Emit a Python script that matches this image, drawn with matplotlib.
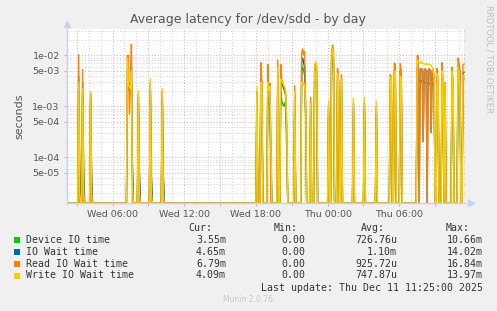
import numpy as np
import pandas as pd
import matplotlib
matplotlib.use("Agg")
from matplotlib import pyplot as plt
from matplotlib import dates as mdates
from matplotlib.ticker import LogLocator, FuncFormatter, NullFormatter
from matplotlib.patches import Rectangle

# ---- data (values in milliseconds, 5 minute samples) ----
n_samples = 400
end_time = "2025-12-11 11:25"

series_names = ["Device IO time", "IO Wait time", "Read IO Wait time", "Write IO Wait time"]
series_colors = ["#00CC00", "#0066B3", "#FF8000", "#FFCC00"]

sample_idx = [
    12, 13, 16, 17, 24, 25,
    61, 62, 63, 64, 65, 66, 72, 73, 84, 85, 96, 97,
    191, 195, 196, 202, 203, 204, 205, 212,
    215, 216, 217, 218, 219, 220, 221, 229,
    236, 237, 238, 239, 240, 245, 249, 250, 251,
    263, 266, 267, 268, 272, 273, 276,
    288, 299, 311, 325, 326, 329, 330, 335, 336,
    352, 353, 354, 355, 356, 357, 358, 359, 360, 361,
    362, 363, 364, 365, 366, 367, 368, 369,
    372, 373, 377, 378, 380, 387, 388, 393, 394, 395, 398, 399,
]
device_ms = [
    2.0, 0.05, 2.0, 0.04, 1.5, 0.03,
    3.0, 2.5, 2.0, 2.0, 3.0, 0.05, 1.2, 0.05, 2.0, 0.04, 1.5, 0.04,
    1.2, 2.0, 1.5, 1.5, 1.1, 1.1, 0.1, 2.5,
    2.0, 1.3, 1.1, 1.0, 1.2, 0.9, 0.12, 1.0,
    5.0, 6.0, 5.0, 4.0, 0.5, 0.8, 3.0, 3.0, 3.0,
    0.7, 5.0, 10.66, 6.0, 2.5, 2.0, 2.0,
    0.8, 0.8, 0.7, 2.0, 2.0, 2.5, 2.5, 2.5, 2.5,
    3.0, 3.0, 3.1, 3.3, 3.0, 3.2, 3.0, 3.0, 2.9, 2.9,
    2.8, 2.8, 2.8, 2.8, 2.9, 2.8, 2.8, 2.0,
    2.0, 1.5, 2.5, 1.5, 1.5, 2.5, 1.5, 3.0, 3.0, 2.0, 3.0, 3.55,
]
iowait_ms = [
    4.0, 0.08, 3.0, 0.06, 1.8, 0.05,
    5.0, 3.0, 2.5, 2.5, 6.0, 0.08, 1.8, 0.05, 3.0, 0.05, 2.0, 0.05,
    2.0, 4.0, 2.5, 4.0, 2.0, 2.0, 0.2, 5.0,
    4.0, 3.0, 2.5, 2.2, 2.0, 1.6, 0.3, 1.8,
    8.0, 9.0, 7.0, 6.0, 0.8, 1.2, 5.0, 6.0, 5.0,
    1.0, 8.0, 14.02, 8.0, 4.0, 3.0, 3.5,
    1.2, 1.2, 1.0, 3.5, 3.0, 5.0, 5.0, 5.0, 4.0,
    6.0, 6.0, 0.0, 5.5, 5.0, 5.5, 0.2, 5.0, 5.5, 5.0,
    0.0, 5.0, 5.5, 5.0, 0.3, 5.0, 5.0, 3.5,
    4.0, 2.0, 5.0, 2.5, 2.5, 4.5, 2.5, 6.0, 6.5, 4.0, 4.5, 4.65,
]
read_ms = [
    10.5, 0.0, 5.4, 0.0, 1.8, 0.0,
    10.0, 10.0, 0.7, 2.5, 16.84, 0.0, 1.5, 0.0, 2.0, 0.0, 1.5, 0.0,
    1.5, 7.3, 3.0, 6.7, 2.0, 2.9, 0.0, 8.3,
    6.7, 3.5, 2.8, 2.5, 2.2, 1.6, 0.3, 2.6,
    11.0, 13.7, 10.0, 12.0, 1.0, 1.55, 5.0, 7.5, 6.0,
    0.8, 10.0, 16.4, 12.0, 5.6, 3.5, 4.3,
    0.9, 0.9, 0.8, 4.3, 3.5, 7.2, 6.5, 7.0, 5.0,
    10.0, 10.0, 0.0, 5.5, 5.0, 5.5, 0.2, 5.0, 5.5, 5.0,
    0.0, 5.0, 5.5, 5.0, 0.3, 5.0, 5.5, 3.5,
    5.6, 3.0, 7.3, 3.0, 3.0, 6.0, 3.0, 9.0, 7.0, 5.0, 6.5, 6.79,
]
write_ms = [
    3.0, 0.02, 2.3, 0.02, 2.0, 0.02,
    9.0, 2.5, 2.5, 2.2, 5.0, 0.03, 2.1, 0.02, 3.6, 0.02, 2.3, 0.02,
    2.5, 3.0, 2.8, 3.0, 2.0, 2.5, 0.3, 6.0,
    3.5, 3.0, 3.2, 2.6, 2.4, 2.0, 0.5, 2.0,
    3.0, 2.5, 3.0, 2.5, 1.0, 1.2, 6.5, 7.5, 6.5,
    1.3, 8.0, 13.97, 11.0, 4.5, 3.0, 3.5,
    1.5, 1.55, 1.3, 3.5, 3.8, 4.0, 5.0, 4.0, 3.5,
    8.0, 7.5, 7.2, 7.5, 7.0, 7.3, 6.8, 7.0, 6.5, 6.8,
    7.0, 6.5, 6.8, 6.5, 6.5, 6.0, 5.0, 3.5,
    4.5, 2.5, 5.0, 3.0, 2.8, 5.0, 2.8, 6.0, 5.0, 1.5, 4.0, 4.09,
]

cur_vals = ["3.55m", "4.65m", "6.79m", "4.09m"]
min_vals = ["0.00", "0.00", "0.00", "0.00"]
avg_vals = ["726.76u", "1.10m", "925.72u", "747.87u"]
max_vals = ["10.66m", "14.02m", "16.84m", "13.97m"]

# ---- build series ----
times = pd.date_range(end=end_time, periods=n_samples, freq="5min")
y_bottom, y_top = 1.26e-5, 3.3e-2
series = []
for vals in (device_ms, iowait_ms, read_ms, write_ms):
    arr = np.zeros(n_samples)
    arr[sample_idx] = np.array(vals) / 1000.0
    arr = np.where(arr > 0, arr, y_bottom)
    series.append(arr)

# ---- figure ----
W, H = 497, 311
fig = plt.figure(figsize=(W / 100, H / 100), dpi=100, facecolor="#F0F0F0")
ax = fig.add_axes([66.7 / W, 1 - 203.3 / H, 398.3 / W, 174.3 / H])
ax.set_facecolor("white")

for arr, col in zip(series, series_colors):
    ax.plot(times, arr, color=col, lw=1.0, solid_joinstyle="miter")

ax.set_yscale("log")
ax.set_ylim(y_bottom, y_top)
ax.set_xlim(times[0], times[-1] + pd.Timedelta("5min"))
ax.axvline(times[-1] + pd.Timedelta("4min"), color="#999999", lw=1.0)

# grid
red = "#E8A8A8"
grey = "#CFCFCF"
ax.yaxis.set_major_locator(LogLocator(base=10, subs=(1.0, 5.0)))
ax.yaxis.set_minor_locator(LogLocator(base=10, subs=(2, 3, 4, 6, 7, 8, 9)))
ax.yaxis.set_major_formatter(FuncFormatter(lambda v, _: "%.0e" % v))
ax.yaxis.set_minor_formatter(NullFormatter())

ax.xaxis.set_major_locator(mdates.HourLocator(byhour=range(0, 24, 3)))
ax.xaxis.set_minor_locator(mdates.HourLocator())
ax.xaxis.set_major_formatter(FuncFormatter(
    lambda v, _: mdates.num2date(v).strftime("%a %H:%M") if mdates.num2date(v).hour % 6 == 0 else ""))

ax.grid(which="major", color=red, ls=(0, (1, 2)), lw=0.7)
ax.grid(which="minor", color=grey, ls=(0, (1, 2)), lw=0.7)
ax.set_axisbelow(True)

ax.tick_params(which="both", labelsize=6.8, labelcolor="#555555", length=2, color=red, pad=3)
ax.tick_params(axis="y", which="minor", length=0)
ax.tick_params(axis="x", which="minor", length=0)

for s in ("top", "right"):
    ax.spines[s].set_visible(False)
for s in ("left", "bottom"):
    ax.spines[s].set_color("#C8D0F0")
    ax.spines[s].set_linewidth(1.0)
ax.plot([0], [1.03], marker="^", color="#C8D0F0", ms=4, transform=ax.transAxes, clip_on=False)
ax.plot([1.015], [0], marker=">", color="#C8D0F0", ms=4, transform=ax.transAxes, clip_on=False)

ax.set_ylabel("seconds", fontsize=8, color="#555555", labelpad=6)

fig.text(248 / W, 1 - 19.5 / H, "Average latency for /dev/sdd - by day",
         ha="center", va="center", fontsize=9, color="#555555")
fig.text(489 / W, 1 - 5 / H, "RRDTOOL / TOBI OETIKER", rotation=270,
         ha="center", va="top", fontsize=6, color="#C0C0C0")

# ---- legend table ----
mono = "DejaVu Sans Mono"
fs = 7.1
tc = "#333333"
fig.text(212 / W, 1 - 227.7 / H, "Cur:", ha="right", va="center", family=mono, fontsize=fs, color=tc)
fig.text(298 / W, 1 - 227.7 / H, "Min:", ha="right", va="center", family=mono, fontsize=fs, color=tc)
fig.text(385 / W, 1 - 227.7 / H, "Avg:", ha="right", va="center", family=mono, fontsize=fs, color=tc)
fig.text(470 / W, 1 - 227.7 / H, "Max:", ha="right", va="center", family=mono, fontsize=fs, color=tc)
row_y = [240, 251.8, 263.7, 275.5]
for k, name in enumerate(series_names):
    y = 1 - row_y[k] / H
    fig.patches.append(Rectangle((14 / W, y - 3 / H), 6 / W, 6 / H, transform=fig.transFigure,
                                 facecolor=series_colors[k], edgecolor="none"))
    fig.text(26 / W, y, name, ha="left", va="center", family=mono, fontsize=fs, color=tc)
    fig.text(226 / W, y, cur_vals[k], ha="right", va="center", family=mono, fontsize=fs, color=tc)
    fig.text(305 / W, y, min_vals[k], ha="right", va="center", family=mono, fontsize=fs, color=tc)
    fig.text(397 / W, y, avg_vals[k], ha="right", va="center", family=mono, fontsize=fs, color=tc)
    fig.text(483 / W, y, max_vals[k], ha="right", va="center", family=mono, fontsize=fs, color=tc)
fig.text(483 / W, 1 - 287.7 / H, "Last update: Thu Dec 11 11:25:00 2025", ha="right", va="center",
         family=mono, fontsize=fs, color=tc)
fig.text(248 / W, 1 - 300 / H, "Munin 2.0.76", ha="center", va="center", fontsize=5.5, color="#C8C8C8")

fig.savefig("out.png", dpi=100, facecolor=fig.get_facecolor())
